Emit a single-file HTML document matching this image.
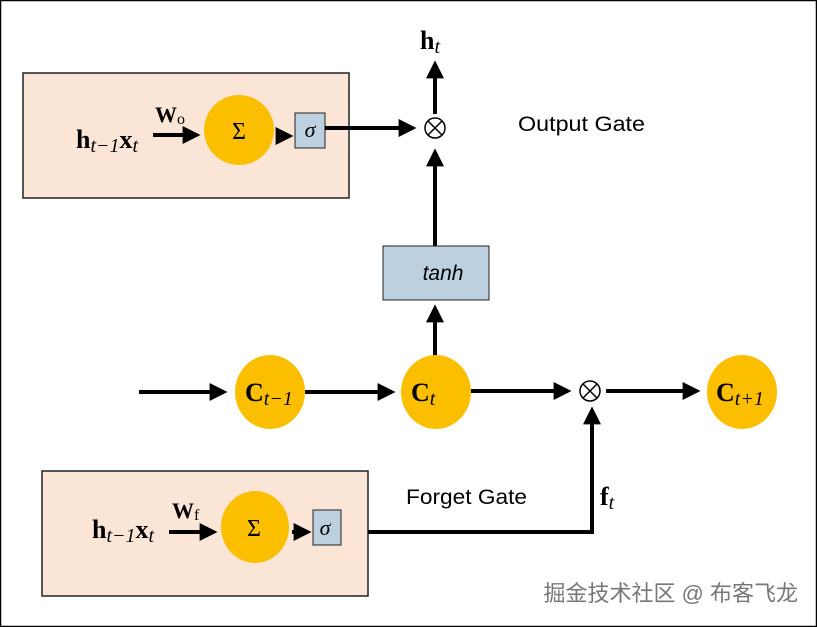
<!DOCTYPE html>
<html><head><meta charset="utf-8"><style>
html,body{margin:0;padding:0;background:#fff}
svg{display:block}
.s{font-family:"Liberation Serif",serif;font-weight:bold}
.i{font-family:"Liberation Serif",serif;font-style:italic;font-weight:normal}
.l{font-family:"Liberation Sans",sans-serif}
</style></head><body>
<svg width="817" height="627" viewBox="0 0 817 627" xmlns="http://www.w3.org/2000/svg">
<defs><marker id="a" markerWidth="4.5" markerHeight="4.5" refX="3.6" refY="2.25" orient="auto" markerUnits="strokeWidth"><path d="M0,0 L4.5,2.25 L0,4.5 z" fill="#000"/></marker></defs>
<rect x="0.5" y="0.5" width="816" height="626" fill="#fff" stroke="#000" stroke-width="1.5"/>
<!-- top box -->
<rect x="23" y="73" width="326" height="125" fill="#fbe5d6" stroke="#222" stroke-width="1.5"/>
<text x="76" y="148" class="s" font-size="26">h<tspan class="i" font-size="20" dy="4">t</tspan><tspan class="i" font-size="20">−1</tspan><tspan dy="-4">x</tspan><tspan class="i" font-size="20" dy="4">t</tspan></text>
<text x="155" y="122" class="s" font-size="22">W<tspan font-size="16" font-weight="normal" dy="2">o</tspan></text>
<line x1="153" y1="135" x2="197" y2="135" stroke="#000" stroke-width="4" marker-end="url(#a)"/>
<circle cx="239" cy="130" r="35" fill="#fbbf00"/>
<text x="239" y="139" font-family="Liberation Serif,serif" font-size="24" text-anchor="middle">Σ</text>
<line x1="276" y1="136" x2="290" y2="136" stroke="#000" stroke-width="4" marker-end="url(#a)"/>
<rect x="295" y="113" width="30" height="35" fill="#bdd0e0" stroke="#222" stroke-width="1"/>
<text x="310" y="137" class="i" font-size="22" text-anchor="middle">σ</text>
<line x1="325" y1="128" x2="413" y2="128" stroke="#000" stroke-width="4" marker-end="url(#a)"/>
<!-- top otimes -->
<circle cx="435" cy="128" r="10" fill="#fff" stroke="#000" stroke-width="1.5"/>
<line x1="428" y1="121" x2="442" y2="135" stroke="#000" stroke-width="1.5"/>
<line x1="442" y1="121" x2="428" y2="135" stroke="#000" stroke-width="1.5"/>
<line x1="435" y1="114" x2="435" y2="64" stroke="#000" stroke-width="4" marker-end="url(#a)"/>
<text x="420" y="49" class="s" font-size="26">h<tspan class="i" font-size="20" dy="4">t</tspan></text>
<text x="518" y="131" class="l" font-size="21" textLength="127" lengthAdjust="spacingAndGlyphs">Output Gate</text>
<line x1="435" y1="246" x2="435" y2="152" stroke="#000" stroke-width="4" marker-end="url(#a)"/>
<rect x="383" y="246" width="106" height="54" fill="#bdd0e0" stroke="#222" stroke-width="1"/>
<text x="443" y="280" class="l" font-size="21" font-style="italic" text-anchor="middle">tanh</text>
<line x1="435" y1="357" x2="435" y2="308" stroke="#000" stroke-width="4" marker-end="url(#a)"/>
<!-- row -->
<line x1="139" y1="392" x2="224" y2="392" stroke="#000" stroke-width="4" marker-end="url(#a)"/>
<ellipse cx="270" cy="392" rx="35" ry="37" fill="#fbbf00"/>
<text x="245" y="401" class="s" font-size="26">C<tspan class="i" font-size="20" dy="4">t−1</tspan></text>
<line x1="305" y1="392" x2="392" y2="392" stroke="#000" stroke-width="4" marker-end="url(#a)"/>
<ellipse cx="436" cy="392" rx="35" ry="37" fill="#fbbf00"/>
<text x="411" y="401" class="s" font-size="26">C<tspan class="i" font-size="20" dy="4">t</tspan></text>
<line x1="471" y1="391" x2="568" y2="391" stroke="#000" stroke-width="4" marker-end="url(#a)"/>
<circle cx="590" cy="391" r="10" fill="#fff" stroke="#000" stroke-width="1.5"/>
<line x1="583" y1="384" x2="597" y2="398" stroke="#000" stroke-width="1.5"/>
<line x1="597" y1="384" x2="583" y2="398" stroke="#000" stroke-width="1.5"/>
<line x1="606" y1="391" x2="697" y2="391" stroke="#000" stroke-width="4" marker-end="url(#a)"/>
<ellipse cx="742" cy="392" rx="35" ry="37" fill="#fbbf00"/>
<text x="716" y="401" class="s" font-size="26">C<tspan class="i" font-size="20" dy="4">t+1</tspan></text>
<!-- bottom box -->
<rect x="42" y="471" width="326" height="125" fill="#fbe5d6" stroke="#222" stroke-width="1.5"/>
<text x="92" y="538" class="s" font-size="26">h<tspan class="i" font-size="20" dy="4">t</tspan><tspan class="i" font-size="20">−1</tspan><tspan dy="-4">x</tspan><tspan class="i" font-size="20" dy="4">t</tspan></text>
<text x="172" y="518" class="s" font-size="22">W<tspan font-size="16" font-weight="normal" dy="2">f</tspan></text>
<line x1="169" y1="532" x2="214" y2="532" stroke="#000" stroke-width="4" marker-end="url(#a)"/>
<ellipse cx="255" cy="527" rx="34" ry="36" fill="#fbbf00"/>
<text x="254" y="536" font-family="Liberation Serif,serif" font-size="24" text-anchor="middle">Σ</text>
<line x1="292" y1="532" x2="308" y2="532" stroke="#000" stroke-width="4" marker-end="url(#a)"/>
<rect x="313" y="510" width="28" height="35" fill="#bdd0e0" stroke="#222" stroke-width="1"/>
<text x="325" y="535" class="i" font-size="22" text-anchor="middle">σ</text>
<polyline points="368,532 592,532 592,420" fill="none" stroke="#000" stroke-width="4"/>
<line x1="592" y1="425" x2="592" y2="410" stroke="#000" stroke-width="4" marker-end="url(#a)"/>
<text x="406" y="504" class="l" font-size="21" textLength="121" lengthAdjust="spacingAndGlyphs">Forget Gate</text>
<text x="600" y="505" class="s" font-size="26">f<tspan class="i" font-size="20" dy="4">t</tspan></text>
<text x="798" y="601" font-family="'Liberation Sans','Noto Sans CJK SC',sans-serif" font-size="22" fill="#777" text-anchor="end">掘金技术社区 @ 布客飞龙</text>
</svg>
</body></html>
